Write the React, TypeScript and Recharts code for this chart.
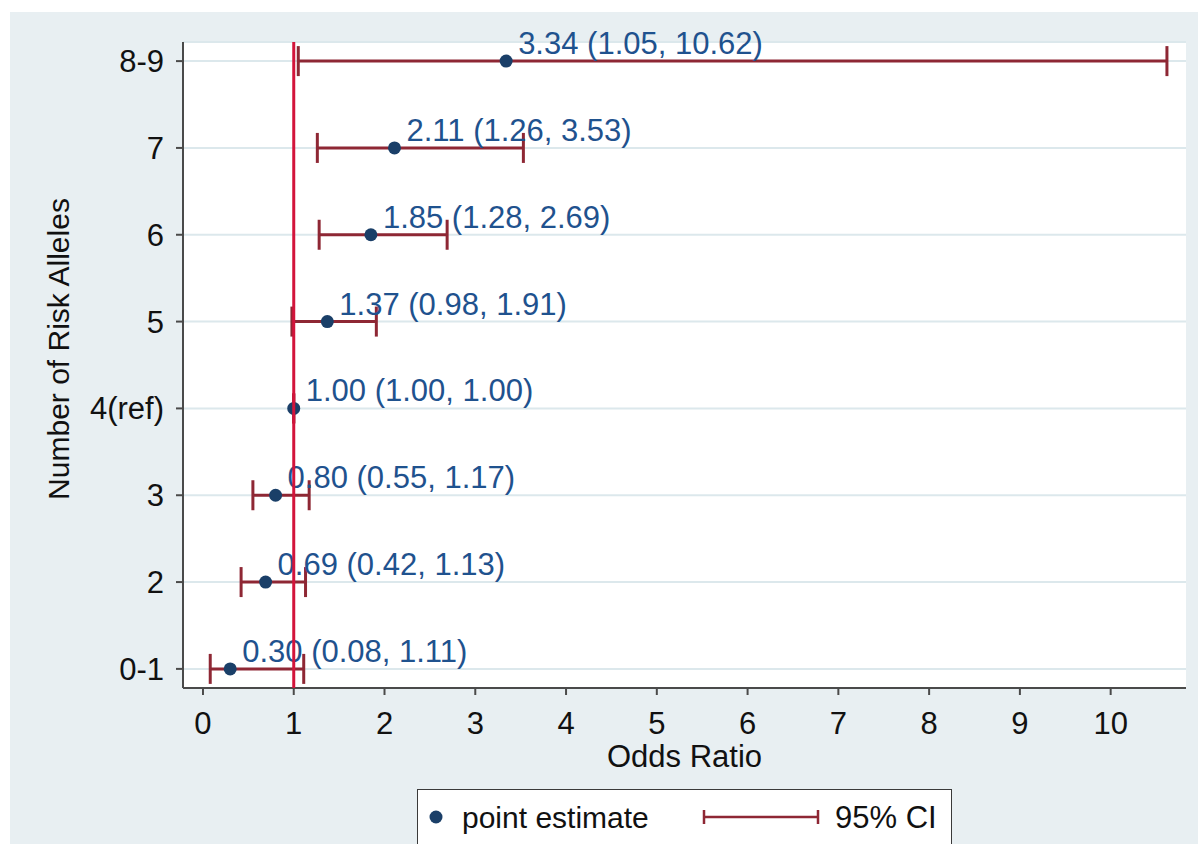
import {
  ScatterChart, Scatter, ErrorBar, XAxis, YAxis, CartesianGrid,
  ReferenceLine, Legend, Label,
} from 'recharts';

// ---------------------------------------------------------------------------
// Data (rows listed bottom → top)
// ---------------------------------------------------------------------------

const groups    = ['0-1', '2', '3', '4(ref)', '5', '6', '7', '8-9'];
const oddsRatio = [0.30, 0.69, 0.80, 1.00, 1.37, 1.85, 2.11, 3.34];
const ciLower   = [0.08, 0.42, 0.55, 1.00, 0.98, 1.28, 1.26, 1.05];
const ciUpper   = [1.11, 1.13, 1.17, 1.00, 1.91, 2.69, 3.53, 10.62];
const xTicks    = [0, 1, 2, 3, 4, 5, 6, 7, 8, 9, 10];

const FONT = '"Liberation Sans", Arial, sans-serif';
const FS = 31;
const DOT = '#1a3f68';
const CI = '#8e2734';
const TEXT_BLUE = '#1f528e';
const REF_RED = '#d3143b';
const AXIS = '#4a4a4a';
const BG = '#e8eff2';

const data = groups.map((g, i) => ({
  group: g,
  row: i,
  or: oddsRatio[i],
  err: [oddsRatio[i] - ciLower[i], ciUpper[i] - oddsRatio[i]],
  text: `${oddsRatio[i].toFixed(2)} (${ciLower[i].toFixed(2)}, ${ciUpper[i].toFixed(2)})`,
}));

// point + its "OR (lo, hi)" label
function PointShape(props: any) {
  const { cx, cy, payload } = props;
  return (
    <g>
      <circle cx={cx} cy={cy} r={6.5} fill={DOT} />
      <text x={cx + 12} y={cy - 7} fill={TEXT_BLUE} fontSize={FS} fontFamily={FONT}>
        {payload.text}
      </text>
    </g>
  );
}

function LegendBox() {
  return (
    <div style={{
      boxSizing: 'border-box', width: 535, height: 60, background: '#fff',
      border: '1.5px solid #3a3a3a', fontFamily: FONT, fontSize: FS, color: '#111',
      position: 'relative',
    }}>
      <svg width={535} height={60} style={{ position: 'absolute', left: -1.5, top: -1.5 }}>
        <circle cx={19} cy={28} r={6.5} fill={DOT} />
        <text x={45} y={39} fontSize={FS - 1} fontFamily={FONT} fill="#111">point estimate</text>
        <line x1={287} y1={28} x2={401} y2={28} stroke={CI} strokeWidth={2.5} />
        <line x1={287} y1={21} x2={287} y2={35} stroke={CI} strokeWidth={2.5} />
        <line x1={401} y1={21} x2={401} y2={35} stroke={CI} strokeWidth={2.5} />
        <text x={418} y={39} fontSize={FS} fontFamily={FONT} fill="#111">95% CI</text>
      </svg>
    </div>
  );
}

export default function App() {
  return (
    <div style={{ position: 'absolute', left: 0, top: 0, width: 1198, height: 844, background: '#fff', overflow: 'hidden' }}>
      <div style={{ position: 'absolute', left: 10, top: 12, width: 1188, height: 832, background: BG }}>
        <ScatterChart
          width={1188}
          height={832}
          margin={{ top: 30, right: 12, left: 0, bottom: 0 }}
        >
          <CartesianGrid
            vertical={false}
            horizontal
            fill="#ffffff"
            stroke="#dce8ec"
            strokeWidth={2}
          />
          <XAxis
            type="number"
            dataKey="or"
            domain={[-0.22, 10.83]}
            ticks={xTicks}
            height={96}
            axisLine={{ stroke: AXIS, strokeWidth: 2 }}
            tickLine={{ stroke: AXIS, strokeWidth: 2 }}
            tickSize={7}
            tickMargin={17}
            tick={{ fill: '#111', fontSize: FS, fontFamily: FONT }}
          >
            <Label
              value="Odds Ratio"
              position="insideBottom"
              offset={17}
              style={{ fill: '#111', fontSize: FS, fontFamily: FONT }}
            />
          </XAxis>
          <YAxis
            type="number"
            dataKey="row"
            domain={[-0.22, 7.22]}
            ticks={groups.map((_, i) => i)}
            tickFormatter={(v: number) => groups[v]}
            width={173}
            axisLine={{ stroke: AXIS, strokeWidth: 2 }}
            tickLine={{ stroke: AXIS, strokeWidth: 2 }}
            tickSize={7}
            tickMargin={12}
            tick={{ fill: '#111', fontSize: FS, fontFamily: FONT }}
          >
            <Label
              content={(p: any) => {
                const vb = p.viewBox;
                const x = vb.x + 48;
                const y = vb.y + vb.height / 2 - 16;
                return (
                  <text
                    x={x} y={y}
                    transform={`rotate(-90, ${x}, ${y})`}
                    textAnchor="middle"
                    dominantBaseline="central"
                    fill="#111"
                    fontSize={FS - 1}
                    fontFamily={FONT}
                  >
                    Number of Risk Alleles
                  </text>
                );
              }}
            />
          </YAxis>
          <Legend
            verticalAlign="bottom"
            content={() => <LegendBox />}
            wrapperStyle={{ left: 407, width: 535, height: 60, bottom: 'auto', top: 777 }}
          />
          <Scatter
            data={data}
            name="point estimate"
            shape={<PointShape />}
            isAnimationActive={false}
          >
            <ErrorBar
              dataKey="err"
              direction="x"
              width={15}
              stroke={CI}
              strokeWidth={3}
              isAnimationActive={false}
            />
          </Scatter>
          <ReferenceLine x={1} stroke={REF_RED} strokeWidth={3} zIndex={700} />
        </ScatterChart>
      </div>
    </div>
  );
}
